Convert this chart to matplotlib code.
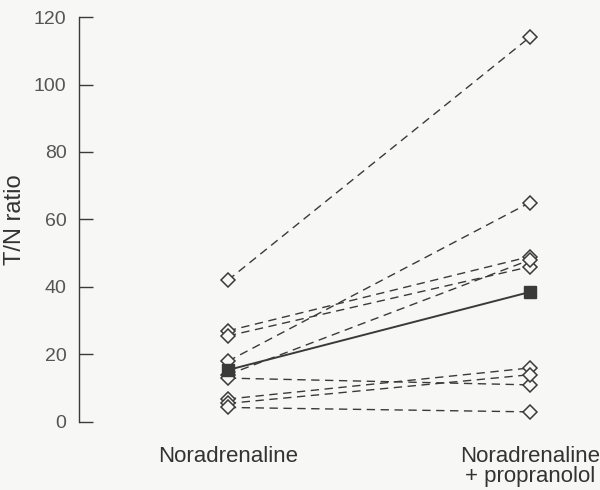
import matplotlib
matplotlib.use("Agg")
import matplotlib.pyplot as plt

plt.rcParams['font.family'] = ['Liberation Sans', 'DejaVu Sans']

categories = ["Noradrenaline", "Noradrenaline\n+ propranolol"]
# individual T/N ratios: (noradrenaline, noradrenaline + propranolol)
before = [42, 18, 27, 25.5, 14, 13, 6.8, 5.5, 4.3]
after = [114, 65, 49, 46, 48, 11, 16, 14, 3]
# summary (filled squares)
mean_values = [15.4, 38.5]
yticks = [0, 20, 40, 60, 80, 100, 120]

ink = "#3a3a3a"
bg = "#f7f7f5"

fig = plt.figure(figsize=(6, 4.9), dpi=100, facecolor=bg)
ax = fig.add_axes([0.1317, 0.1388, 0.8513, 0.8265], facecolor=bg)

xs = [0, 1]
for b, a in zip(before, after):
    ax.plot(xs, [b, a], linestyle=(0, (6, 4)), color=ink, linewidth=1.0,
            marker='D', markersize=7.5, markerfacecolor=bg, markeredgecolor=ink,
            markeredgewidth=1.1, clip_on=False, zorder=3)

ax.plot(xs, mean_values, linestyle='-', color=ink, linewidth=1.4,
        marker='s', markersize=8, markerfacecolor=ink, markeredgecolor=ink,
        clip_on=False, zorder=4)

ax.set_xlim(-0.493, 1.199)
ax.set_ylim(0, 120)
ax.set_yticks(yticks)
ax.set_yticklabels([str(t) for t in yticks], fontsize=14, color="#555555")
ax.tick_params(axis='y', direction='in', length=10, width=1.0, color=ink, pad=9)
ax.set_xticks(xs)
ax.set_xticklabels(categories, fontsize=16, color="#333333", linespacing=0.95,
                   va='top')
ax.tick_params(axis='x', length=0, pad=17)

for s in ['top', 'right', 'bottom']:
    ax.spines[s].set_visible(False)
ax.spines['left'].set_color(ink)
ax.spines['left'].set_linewidth(1.0)

ax.set_ylabel("T/N ratio", fontsize=17, color="#333333", labelpad=6)

fig.savefig("out.png", dpi=100, facecolor=bg)
